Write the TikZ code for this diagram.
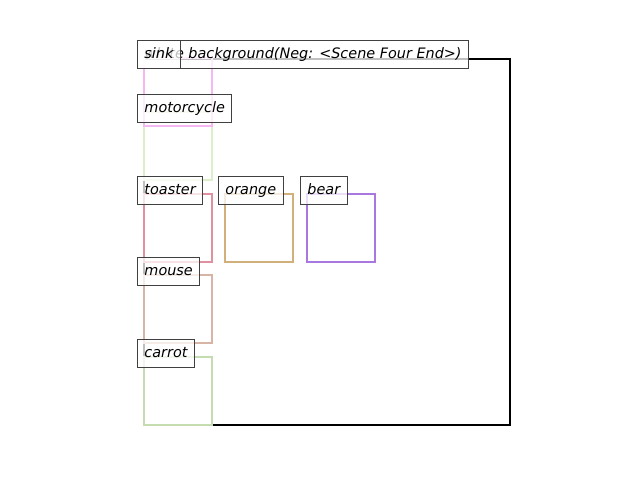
\documentclass[tikz,border=0pt]{standalone}
\usepackage{fontspec}
\setsansfont{DejaVu Sans}
\definecolor{sinkc}{HTML}{F5B8F5}
\definecolor{motoc}{HTML}{DCEFC8}
\definecolor{toastc}{HTML}{E0909F}
\definecolor{orangec}{HTML}{D2B07C}
\definecolor{bearc}{HTML}{A878E0}
\definecolor{mousec}{HTML}{D8B4A4}
\definecolor{carrotc}{HTML}{C4DCB0}
\tikzset{
  tag/.style={draw=black!75, fill=white, fill opacity=0.75, text opacity=1,
    line width=0.8pt, anchor=north west, inner xsep=5pt, inner ysep=0pt,
    minimum height=20.16pt, text height=7.6pt, text depth=2.2pt,
    font=\sffamily\itshape\fontsize{10.4}{12}\selectfont},
  objbox/.style={line width=1.8pt}
}
\begin{document}
\begin{tikzpicture}[x=0.01in, y=-0.01in]
\useasboundingbox (0,0) rectangle (640,480);
% scene frame
\draw[line width=1.8pt, black] (144,59) rectangle (510,425);
% object boxes
\foreach \c/\x/\y in {motoc/144/112, sinkc/144/58, toastc/144/194, orangec/225/194,
  bearc/307/194, mousec/144/275, carrotc/144/357}
  \draw[objbox, draw=\c] (\x,\y) rectangle ++(68,68);
% labels
\node[tag] (bg) at (137,40) {white background(Neg: <Scene Four End>)};
\node[tag] (sink) at (137,40) {sink};
\node[tag] (motorcycle) at (137,94) {motorcycle};
\node[tag] (toaster) at (137,176) {toaster};
\node[tag] (orange) at (218,176) {orange};
\node[tag] (bear) at (300,176) {bear};
\node[tag] (mouse) at (137,257) {mouse};
\node[tag] (carrot) at (137,339) {carrot};
\end{tikzpicture}
\end{document}
